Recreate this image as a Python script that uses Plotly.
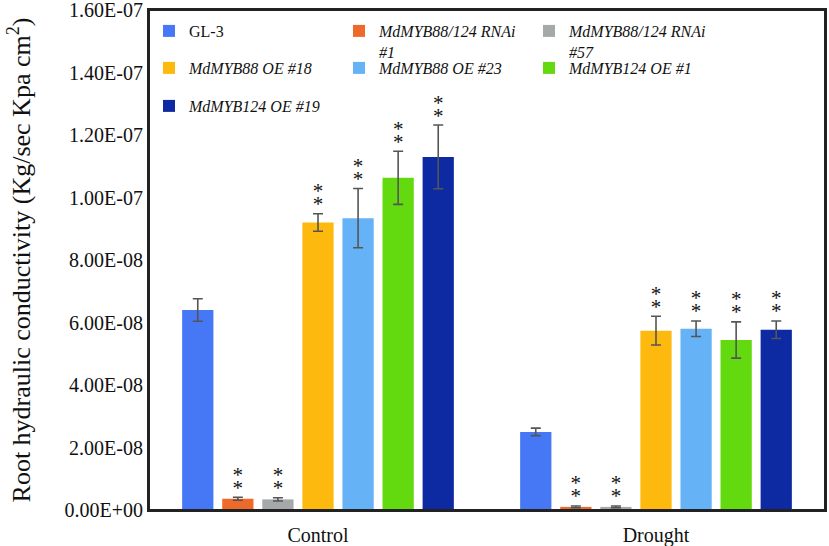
import plotly.graph_objects as go

categories = ["Control", "Drought"]
series_names = [
    "GL-3",
    "<i>MdMYB88/124 RNAi</i><br><i>#1</i>",
    "<i>MdMYB88/124 RNAi</i><br><i>#57</i>",
    "<i>MdMYB88 OE #18</i>",
    "<i>MdMYB88 OE #23</i>",
    "<i>MdMYB124 OE #1</i>",
    "<i>MdMYB124 OE #19</i>",
]
values = [
    [6.40e-8, 2.50e-8],
    [0.36e-8, 0.10e-8],
    [0.34e-8, 0.10e-8],
    [9.20e-8, 5.74e-8],
    [9.34e-8, 5.80e-8],
    [10.63e-8, 5.44e-8],
    [11.30e-8, 5.77e-8],
]
errors = [
    [0.36e-8, 0.12e-8],
    [0.05e-8, 0.03e-8],
    [0.05e-8, 0.03e-8],
    [0.28e-8, 0.46e-8],
    [0.95e-8, 0.25e-8],
    [0.85e-8, 0.58e-8],
    [1.02e-8, 0.28e-8],
]
significant = [
    [False, False],
    [True, True],
    [True, True],
    [True, True],
    [True, True],
    [True, True],
    [True, True],
]
colors = ["#4677F5", "#EE6A2A", "#A5A9AA", "#FDB90D", "#66B2F7", "#63D90F", "#0E2AA3"]
legend_ids = ["legend", "legend", "legend", "legend2", "legend2", "legend2", "legend3"]
tick_vals = [0, 2e-8, 4e-8, 6e-8, 8e-8, 1e-7, 1.2e-7, 1.4e-7, 1.6e-7]
tick_text = ["0.00E+00", "2.00E-08", "4.00E-08", "6.00E-08", "8.00E-08",
             "1.00E-07", "1.20E-07", "1.40E-07", "1.60E-07"]

SERIF = "Liberation Serif, Times New Roman, serif"
STAR = "<span style='font-size:21px'>*</span>"
STARS = STAR + "<br>" + STAR

fig = go.Figure()
for i, name in enumerate(series_names):
    fig.add_trace(go.Bar(
        x=categories, y=values[i], name=name,
        marker=dict(color=colors[i], line=dict(width=0)),
        error_y=dict(type="data", array=errors[i], color="#555555", thickness=1.6, width=5),
        offsetgroup=str(i), legend=legend_ids[i],
    ))
for i, name in enumerate(series_names):
    xs, ys = [], []
    for c, v, e, s in zip(categories, values[i], errors[i], significant[i]):
        if s:
            xs.append(c)
            ys.append(v + e)
    if not xs:
        continue
    fig.add_trace(go.Scatter(
        x=xs, y=ys, mode="text", text=[STARS] * len(xs),
        textposition="top center",
        textfont=dict(family=SERIF, size=10, color="#111111"),
        offsetgroup=str(i), showlegend=False, hoverinfo="skip",
    ))

legend_common = dict(
    orientation="h", xanchor="left", yanchor="top", x=0.0,
    entrywidth=145, entrywidthmode="pixels", valign="top",
    font=dict(family=SERIF, size=16, color="#111111"),
    bgcolor="rgba(0,0,0,0)", tracegroupgap=0,
)

fig.update_layout(
    width=829, height=546,
    margin=dict(l=149, r=4, t=10, b=36, autoexpand=False),
    paper_bgcolor="white", plot_bgcolor="white",
    barmode="group", bargap=0.17, bargroupgap=0.22,
    scattermode="group", scattergap=0.17,
    font=dict(family=SERIF, size=16, color="#111111"),
    showlegend=True,
    legend=dict(y=0.992, **legend_common),
    legend2=dict(y=0.918, **legend_common),
    legend3=dict(y=0.842, **legend_common),
    xaxis=dict(
        showline=True, linecolor="#222222", linewidth=2, mirror=True,
        ticks="", tickfont=dict(size=20), showgrid=False, ticklabelstandoff=6,
        automargin=False,
    ),
    yaxis=dict(
        range=[0, 1.6e-7], tickvals=tick_vals, ticktext=tick_text,
        showline=True, linecolor="#222222", linewidth=2, mirror=True,
        ticks="", showgrid=False, tickfont=dict(size=20), zeroline=False,
        ticklabeloverflow="allow", automargin=False,
        title=dict(text="Root hydraulic conductivity (Kg/sec Kpa cm<sup>2</sup>)",
                   font=dict(size=26), standoff=26),
    ),
    shapes=[dict(type="rect", xref="paper", yref="paper", x0=0, y0=0, x1=1, y1=1,
                 line=dict(color="#222222", width=2), layer="above")],
)

fig.write_html("out.html", config={"displayModeBar": False},
               post_script="document.body.style.margin='0';")
